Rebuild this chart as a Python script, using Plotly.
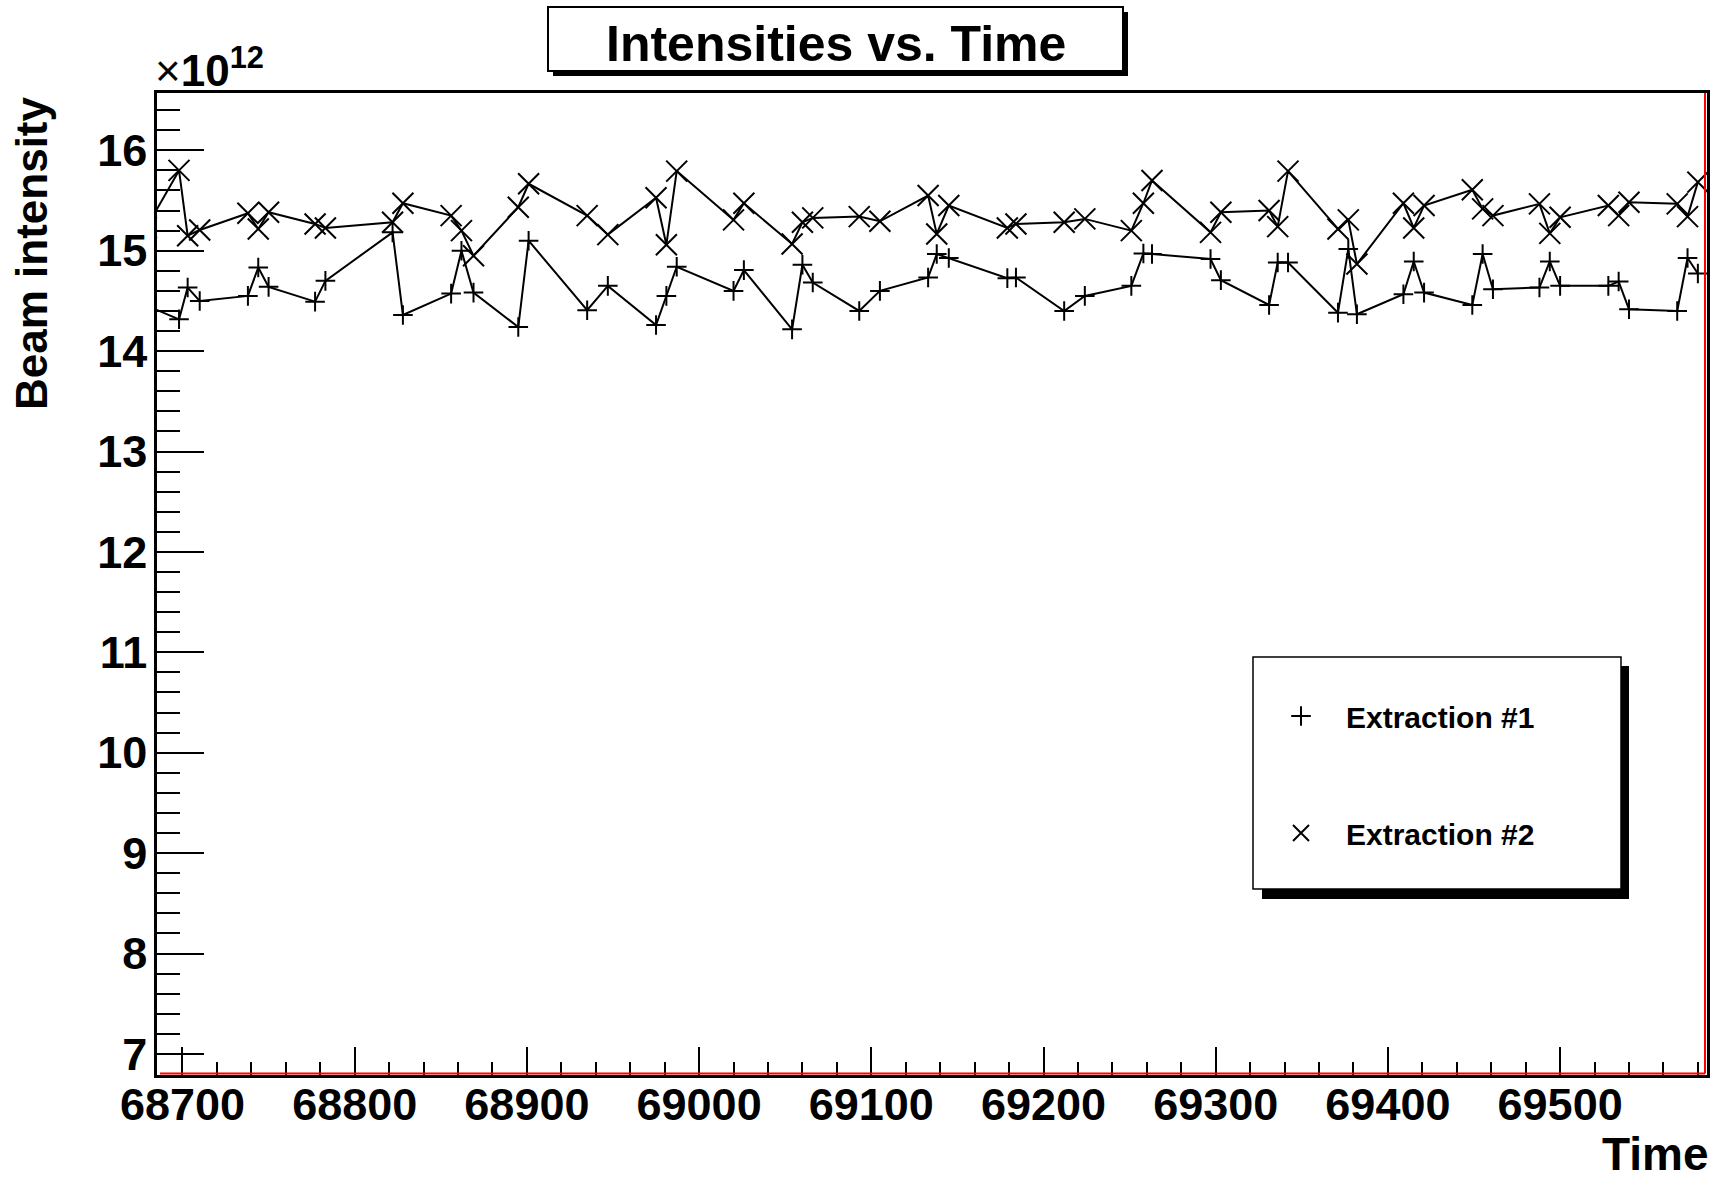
import plotly.graph_objects as go

# ---------------- data ----------------
time = [68679, 68698, 68703, 68710, 68738, 68744, 68750, 68777, 68783, 68822,
        68828, 68856, 68862, 68869, 68895, 68901, 68935, 68947, 68975, 68981,
        68987, 69020, 69026, 69054, 69060, 69066, 69093, 69105, 69133, 69138,
        69145, 69179, 69184, 69212, 69224, 69251, 69258, 69263, 69297, 69303,
        69331, 69336, 69342, 69371, 69377, 69382, 69409, 69415, 69421, 69449,
        69455, 69461, 69488, 69494, 69500, 69528, 69534, 69540, 69568, 69574,
        69580]

# beam intensity in units of 10^12
extraction1 = [14.455, 14.317, 14.633, 14.50, 14.55, 14.833, 14.64, 14.493, 14.70, 15.183,
               14.36, 14.573, 15.00, 14.583, 14.24, 15.10, 14.407, 14.65, 14.26, 14.55,
               14.84, 14.60, 14.807, 14.217, 14.86, 14.683, 14.40, 14.60, 14.733, 14.967,
               14.927, 14.727, 14.733, 14.40, 14.55, 14.65, 14.973, 14.967, 14.917, 14.707,
               14.46, 14.883, 14.883, 14.383, 15.017, 14.367, 14.567, 14.893, 14.583, 14.46,
               14.967, 14.617, 14.633, 14.893, 14.65, 14.65, 14.693, 14.417, 14.40, 14.927,
               14.773]

extraction2 = [15.23, 15.80, 15.15, 15.207, 15.373, 15.217, 15.383, 15.267, 15.227, 15.283,
               15.473, 15.35, 15.20, 14.95, 15.433, 15.667, 15.35, 15.16, 15.527, 15.06,
               15.793, 15.307, 15.473, 15.067, 15.283, 15.327, 15.34, 15.293, 15.55, 15.167,
               15.45, 15.227, 15.267, 15.283, 15.317, 15.20, 15.473, 15.70, 15.183, 15.383,
               15.40, 15.24, 15.793, 15.217, 15.307, 14.867, 15.473, 15.227, 15.45, 15.607,
               15.417, 15.35, 15.467, 15.173, 15.333, 15.45, 15.35, 15.483, 15.467, 15.34,
               15.683]

series_names = ["Extraction #1", "Extraction #2"]
y_tick_values = [7, 8, 9, 10, 11, 12, 13, 14, 15, 16]
x_tick_values = [68700, 68800, 68900, 69000, 69100, 69200, 69300, 69400, 69500]
x_tick_labels = [str(v) for v in x_tick_values]

# ---------------- layout geometry (page pixels) ----------------
FW, FH = 1710, 1180
L, R, T, B = 157, 1707, 93, 1075
W, H = R - L, B - T


def px(x):
    return (x - L) / W


def py(y):
    return (B - y) / H


FONT = "Liberation Sans, Arial, Helvetica, sans-serif"

fig = go.Figure()

markers = [dict(symbol="cross-thin", size=14, line=dict(color="black", width=2)),
           dict(symbol="x-thin", size=21, line=dict(color="black", width=2))]
legends = ["legend", "legend2"]

for vals, name, mk, lg in zip([extraction1, extraction2], series_names, markers, legends):
    # connecting polyline
    fig.add_trace(go.Scatter(
        x=time, y=vals, mode="lines", name=name, showlegend=False,
        line=dict(color="black", width=2), hoverinfo="skip",
    ))
    # markers (with legend entry)
    fig.add_trace(go.Scatter(
        x=time, y=vals, mode="markers", name=name, marker=mk, legend=lg,
    ))

shapes = []
# title box with shadow
shapes.append(dict(type="rect", xref="paper", yref="paper",
                   x0=px(553), x1=px(1128), y0=py(76), y1=py(12),
                   fillcolor="black", line=dict(width=0), layer="above"))
shapes.append(dict(type="rect", xref="paper", yref="paper",
                   x0=px(548), x1=px(1123), y0=py(71), y1=py(7),
                   fillcolor="white", line=dict(color="black", width=2), layer="above"))
# legend box with shadow
shapes.append(dict(type="rect", xref="paper", yref="paper",
                   x0=px(1262), x1=px(1629), y0=py(899), y1=py(666),
                   fillcolor="black", line=dict(width=0), layer="above"))
shapes.append(dict(type="rect", xref="paper", yref="paper",
                   x0=px(1253), x1=px(1621), y0=py(889), y1=py(657),
                   fillcolor="white", line=dict(color="black", width=1.5), layer="above"))
# red frame lines (bottom and right, inside the black axes)
shapes.append(dict(type="line", xref="paper", yref="paper",
                   x0=px(160), x1=px(1705), y0=py(1073.5), y1=py(1073.5),
                   line=dict(color="red", width=2), layer="above"))
shapes.append(dict(type="line", xref="paper", yref="paper",
                   x0=px(1705), x1=px(1705), y0=py(1073.5), y1=py(93),
                   line=dict(color="red", width=2), layer="above"))

annotations = [
    dict(text="Intensities vs. Time", xref="paper", yref="paper",
         x=px(836), y=py(44), xanchor="center", yanchor="middle", showarrow=False,
         font=dict(family=FONT, size=50, color="black", weight="bold")),
    dict(text="Beam intensity", xref="paper", yref="paper", textangle=-90,
         x=px(31), y=py(253), xanchor="center", yanchor="middle", showarrow=False,
         borderpad=0, borderwidth=0,
         font=dict(family=FONT, size=44, color="black", weight="bold")),
    dict(text="Time", xref="paper", yref="paper",
         x=px(1709), y=py(1180), xanchor="right", yanchor="bottom", showarrow=False,
         borderpad=0, borderwidth=0,
         font=dict(family=FONT, size=46, color="black", weight="bold")),
    dict(text="×<b>10<sup>12</sup></b>", xref="paper", yref="paper",
         x=px(153), y=py(97), xanchor="left", yanchor="bottom", showarrow=False,
         font=dict(family=FONT, size=44, color="black")),
]

legend_common = dict(xanchor="left", yanchor="middle", bgcolor="rgba(0,0,0,0)",
                     borderwidth=0, itemwidth=80,
                     font=dict(family=FONT, size=30, color="black", weight="bold"))

fig.update_layout(
    width=FW, height=FH, autosize=False,
    margin=dict(l=L, r=FW - R, t=T, b=FH - B, pad=0, autoexpand=False),
    paper_bgcolor="white", plot_bgcolor="white",
    showlegend=True,
    shapes=shapes, annotations=annotations,
    font=dict(family=FONT, color="black"),
    legend=dict(x=px(1256), y=py(716), **legend_common),
    legend2=dict(x=px(1256), y=py(833), **legend_common),
    xaxis=dict(range=[68685.2, 69585.3], showgrid=False, zeroline=False,
               automargin=False,
               showline=True, linecolor="black", linewidth=2.5, mirror=True,
               tickmode="array", tickvals=x_tick_values, ticktext=x_tick_labels,
               ticks="inside", ticklen=28, tickwidth=2, tickcolor="black",
               minor=dict(dtick=20, tick0=68700, ticks="inside", ticklen=13,
                          tickwidth=2, tickcolor="black", showgrid=False),
               ticklabelstandoff=-12,
               tickfont=dict(family=FONT, size=45, color="black", weight="bold")),
    yaxis=dict(range=[6.790, 16.571], showgrid=False, zeroline=False,
               automargin=False,
               showline=True, linecolor="black", linewidth=2.5, mirror=True,
               tickmode="array", tickvals=y_tick_values,
               ticks="inside", ticklen=47, tickwidth=2, tickcolor="black",
               minor=dict(dtick=0.2, tick0=7, ticks="inside", ticklen=23,
                          tickwidth=2, tickcolor="black", showgrid=False),
               ticklabelstandoff=-2,
               tickfont=dict(family=FONT, size=45, color="black", weight="bold")),
)

# remove the browser's default 8px body margin so the figure fills the window
fig.write_html("out.html", config={"displayModeBar": False},
               post_script="document.body.style.margin='0px';")
